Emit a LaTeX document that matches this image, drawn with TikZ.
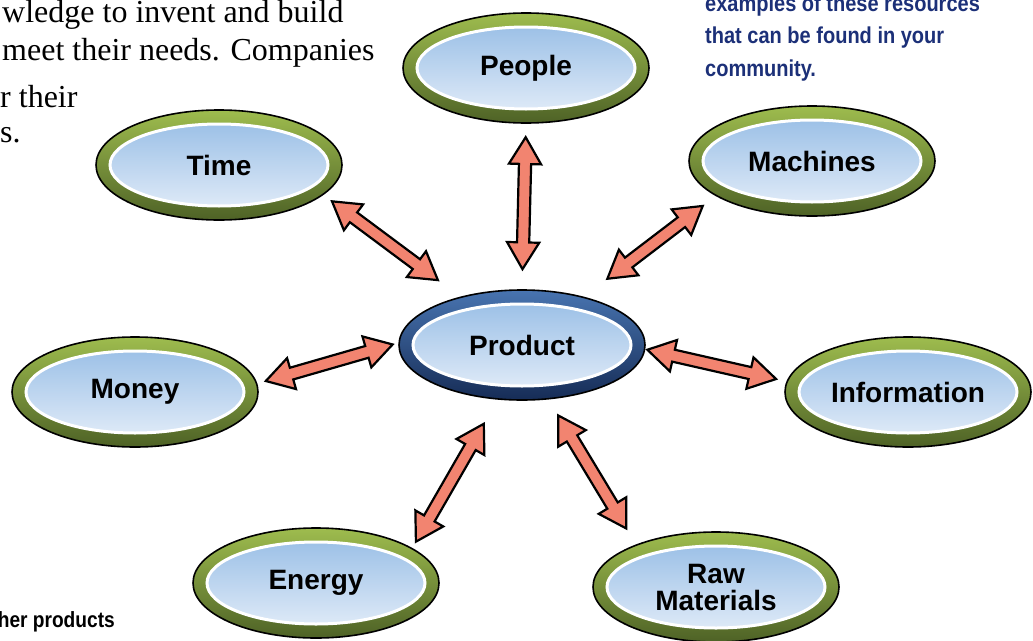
\documentclass[tikz,border=0pt]{standalone}
\usepackage{fontspec}
\setmainfont{Liberation Serif}
\setsansfont{Liberation Sans}
\newfontfamily\condfont[FakeStretch=0.87]{Liberation Sans}
\usetikzlibrary{shapes.geometric, shapes.arrows}

\definecolor{RingLight}{RGB}{158, 188, 78}
\definecolor{RingDark}{RGB}{78, 98, 38}
\definecolor{HubLight}{RGB}{72, 116, 176}
\definecolor{HubDark}{RGB}{22, 44, 86}
\definecolor{SkyTop}{RGB}{146, 186, 228}
\definecolor{SkyMid}{RGB}{190, 215, 240}
\definecolor{SkyBottom}{RGB}{232, 240, 250}
\definecolor{Salmon}{RGB}{242, 132, 112}
\definecolor{NoteBlue}{RGB}{28, 48, 120}

\begin{document}
\begin{tikzpicture}[x=1pt, y=-1pt,
        resource/.style={ellipse, draw=black, line width=1.6pt,
                         minimum width=246pt, minimum height=110pt, inner sep=0pt,
                         top color=RingLight, bottom color=RingDark,
                         align=center,
                         font=\sffamily\bfseries\fontsize{28}{27}\selectfont,
                         path picture={
                             \draw[white, line width=3pt, top color=SkyTop,
                                   middle color=SkyMid, bottom color=SkyBottom]
                                 (path picture bounding box.center)
                                 ellipse [x radius=109pt, y radius=41pt];
                         }},
        hub/.style={resource, top color=HubLight, bottom color=HubDark},
        link/.style={double arrow, sloped, draw=black, line width=2.2pt,
                     fill=Salmon, minimum height=132pt,
                     inner xsep=0pt, inner ysep=5pt,
                     double arrow head extend=10pt,
                     double arrow tip angle=62},
        body/.style={anchor=base west, inner sep=0pt,
                     font=\fontsize{32}{36}\selectfont},
        note/.style={anchor=base west, inner sep=0pt, text=NoteBlue,
                     font=\condfont\bfseries\fontsize{23}{33}\selectfont}
    ]
    \useasboundingbox (0,0) rectangle (1033,640);

    % running text of the page
    \node[body] (line1) at (2,22) {wledge to invent and build};
    \node[body] (line2) at (2,60) {meet their needs. Companies};
    \node[body] (line3) at (0,107) {r their};
    \node[body] (line4) at (0,142) {s.};

    \node[note] (note1) at (705,11) {examples of these resources};
    \node[note] (note2) at (705,43) {that can be found in your};
    \node[note] (note3) at (705,76) {community.};

    \node[anchor=base east, inner sep=0pt,
          font=\condfont\bfseries\fontsize{22}{26}\selectfont] (caption) at (115,627) {her products};

    % product in the middle, resources around it
    \node[hub] (product) at (522,345) {Product};
    \node[resource] (people) at (526,68) {People};
    \node[resource] (time) at (219,165) {Time};
    \node[resource] (machines) at (812,161) {Machines};
    \node[resource] (money) at (135,392) {Money};
    \node[resource] (info) at (908,392) {Information};
    \node[resource] (energy) at (316,583) {Energy};
    \node[resource] (raw) at (716,587) {Raw\\Materials};

    % two-way arrows
    \path (time.-16) -- node[link, pos=.45] {} (product.142);
    \path (people.south) -- node[link, pos=.48] {} (product.north);
    \path (machines.200) -- node[link, pos=.46, minimum height=120pt] {} (product.38);
    \path (money.4) -- node[link, pos=.51] {} (product.179);
    \path (product.-2) -- node[link, pos=.47] {} (info.175);
    \path (energy.20) -- node[link, pos=.44, minimum height=136pt] {} (product.246);
    \path (product.-64) -- node[link] {} (raw.152);
\end{tikzpicture}
\end{document}
